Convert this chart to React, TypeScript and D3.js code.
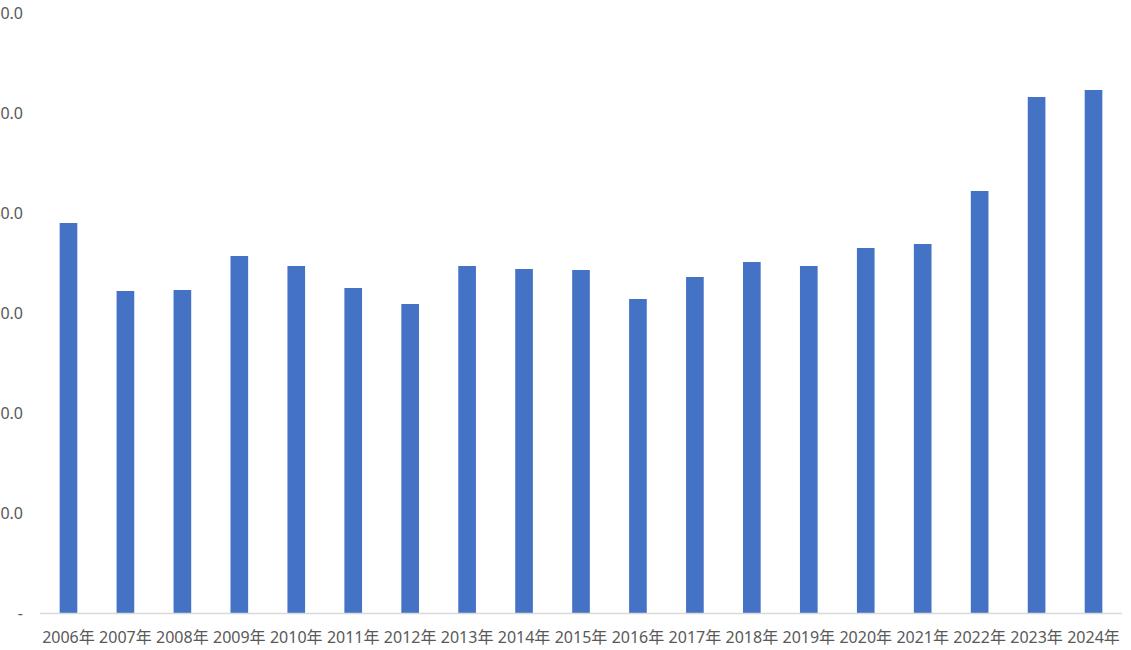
import React from "react";
import * as d3 from "d3";

const years = ["2006年","2007年","2008年","2009年","2010年","2011年","2012年","2013年","2014年","2015年","2016年","2017年","2018年","2019年","2020年","2021年","2022年","2023年","2024年"];
const values = [39.0, 32.2, 32.3, 35.7, 34.7, 32.5, 30.9, 34.7, 34.4, 34.3, 31.4, 33.6, 35.1, 34.7, 36.5, 36.9, 42.2, 51.6, 52.3];
const yTicks = [0, 10, 20, 30, 40, 50, 60];
const yTickLabels = ["-", "10.0", "20.0", "30.0", "40.0", "50.0", "60.0"];

export default function App() {
  const W = 1131, H = 650;
  const x = d3.scaleBand<string>().domain(years).range([40, 1122]).paddingInner(0.69).paddingOuter(0.345);
  const y = d3.scaleLinear().domain([0, 60]).range([613, 13]);
  const font = "'Noto Sans', 'Noto Sans CJK SC', sans-serif";
  return (
    <svg width={W} height={H} style={{ position: "absolute", left: 0, top: 0, display: "block", background: "#fff" }}>
      {years.map((yr, i) => (
        <rect key={yr} x={x(yr)} y={y(values[i])} width={x.bandwidth()} height={y(0) - y(values[i])} fill="#4472C4" />
      ))}
      <line x1={40} x2={1122} y1={y(0) + 0.5} y2={y(0) + 0.5} stroke="#d9d9d9" strokeWidth={1.5} />
      {yTicks.map((t, i) => (
        <text key={t} x={23} y={y(t)} dy="0.35em" textAnchor="end" fontFamily={font} fontSize={16} fill="#595959">{yTickLabels[i]}</text>
      ))}
      {years.map((yr) => (
        <text key={yr} x={(x(yr) as number) + x.bandwidth() / 2} y={643} textAnchor="middle" fontFamily={font} fontSize={16} fill="#595959">{yr}</text>
      ))}
    </svg>
  );
}
